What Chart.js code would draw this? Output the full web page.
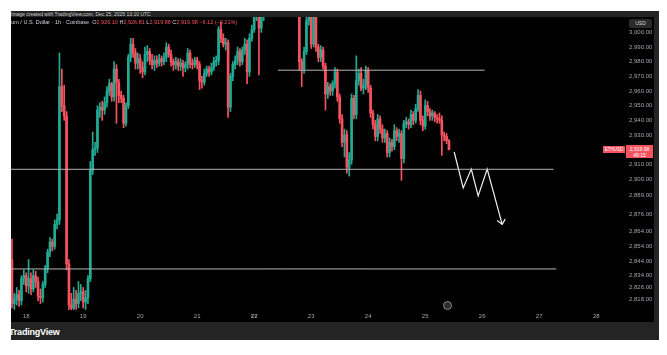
<!DOCTYPE html>
<html>
<head>
<meta charset="utf-8">
<script src="https://cdn.jsdelivr.net/npm/chart.js@4.4.1/dist/chart.umd.min.js"></script>
<style>
  html, body { margin: 0; padding: 0; background: #fff; width: 667px; height: 355px; overflow: hidden; font-family: "Liberation Sans", Arial, sans-serif; }
  #frame { position: absolute; left: 11px; top: 11px; width: 648px; height: 329px; background: #242424; overflow: hidden; }
  #panel { position: absolute; left: 0; top: 6px; width: 643px; height: 305px; background: #000; }
  #panel canvas { position: absolute; left: 0; top: 0; }
  #caption { position: absolute; left: 0; top: 0; font-size: 5px; line-height: 6px; color: #c9c9c9; white-space: nowrap; }
  #legend { position: absolute; left: 0; top: 8px; font-size: 5.5px; line-height: 7px; color: #d1d4dc; white-space: nowrap; text-indent: -16px; z-index: 2; }
  #legend .v { color: #f7525f; }
  #usd { position: absolute; left: 618px; top: 8px; width: 23px; height: 9px; background: #2a2a2a; border-radius: 2px; color: #d1d4dc; font-size: 5px; line-height: 9px; text-align: center; z-index: 2; }
  #symtag { position: absolute; left: 592px; top: 135px; width: 22px; height: 7px; background: #f7525f; color: #fff; font-size: 4.5px; line-height: 7px; text-align: center; z-index: 2; }
  #pricetag { position: absolute; left: 615px; top: 134px; width: 27px; height: 13px; background: #f7525f; color: #fff; font-size: 5px; line-height: 6px; text-align: center; padding-top: 1px; box-sizing: border-box; z-index: 2; }
  #brand { position: absolute; left: 9px; top: 327px; font-size: 9px; font-weight: bold; color: #fff; letter-spacing: -0.2px; }
  #replay { position: absolute; left: 443px; top: 301px; width: 7px; height: 7px; border-radius: 50%; border: 1px solid #8a8a8a; background: #2c2c2c; }
</style>
</head>
<body>
<div id="frame">
  <div id="caption">Image created with TradingView.com, Dec 25, 2025 13:10 UTC</div>
  <div id="panel"><canvas id="chart" width="643" height="305"></canvas></div>
  <div id="legend">Ethereum / U.S. Dollar · 1h · Coinbase &nbsp;O<span class="v">2,926.10</span> H<span class="v">2,926.81</span> L<span class="v">2,919.88</span> C<span class="v">2,919.98</span> <span class="v">−6.12 (−0.21%)</span></div>
  <div id="usd">USD</div>
  <div id="symtag">ETHUSD</div>
  <div id="pricetag">2,919.98<br>49:15</div>
</div>
<div id="brand">TradingView</div>
<div id="replay"></div>
<script>
// bougies 1h, premiere bougie = 17 dec 18:00 (heure -6 par rapport au 18 dec 00:00)
const startHour = -6;

const opens = [
  2845,2815,2818,2821,2817,2832,2834,2827,2832,2825,
  2834,2830,2820,2819,2828,2839,2850,2857,2854,2869,
  2872,2963,2950,2943,2842,2814,2812,2818,2815,2822,
  2823,2816,2819,2832,2906,2920,2921,2947,2949,2947,
  2952,2960,2965,2956,2975,2966,2957,2955,2938,2950,
  2983,2992,2986,2979,2982,2976,2973,2985,2987,2981,
  2978,2981,2979,2982,2980,2983,2990,2985,2980,2978,
  2980,2977,2979,2976,2978,2986,2979,2978,2981,2978,
  2967,2966,2972,2975,2973,2976,2980,2981,3002,2996,
  2992,2993,2949,2970,2978,2981,2987,2980,2988,2992,
  2973,2996,3002,3011,3014,3003,3012,3018,3022,3026,
  3024,3030,3033,3028,3031,3027,3029,3024,3027,3021,
  3018,3020,2980,2975,2987,3008,3015,2992,3012,2990,
  2983,2988,2977,2958,2963,2960,2965,2973,2956,2941,
  2925,2930,2908,2913,2955,2944,2967,2972,2962,2964,
  2974,2962,2945,2937,2929,2941,2934,2928,2931,2918,
  2925,2922,2933,2929,2931,2914,2938,2939,2937,2944,
  2940,2948,2957,2940,2936,2950,2946,2943,2945,2942,
  2941,2940,2930,2929,2926.1
];
const highs = [
  2859,2822,2826,2824,2834,2838,2836,2845,2836,2838,
  2837,2833,2825,2830,2841,2852,2860,2859,2872,2876,
  2986,2975,2964,2946,2845,2822,2826,2824,2830,2828,
  2826,2824,2834,2912,2932,2925,2950,2952,2953,2956,
  2963,2968,2966,2980,2978,2968,2960,2957,2952,2985,
  2996,2996,2989,2986,2985,2980,2990,2991,2989,2985,
  2984,2984,2985,2984,2986,2993,2992,2988,2982,2983,
  2982,2982,2981,2980,2989,2988,2982,2983,2983,2980,
  2970,2975,2977,2977,2979,2983,2984,3004,3007,2999,
  2996,2995,2972,2980,2984,2990,2989,2990,2996,2995,
  2999,3005,3015,3020,3016,3018,3025,3028,3031,3030,
  3034,3038,3036,3035,3034,3033,3031,3030,3029,3024,
  3025,3022,2982,2990,3012,3020,3020,3016,3014,2992,
  2991,2990,2979,2966,2965,2967,2976,2975,2958,2944,
  2934,2933,2918,2958,2957,2984,2975,2976,2968,2977,
  2976,2964,2947,2940,2944,2943,2937,2934,2933,2928,
  2927,2937,2935,2934,2933,2940,2942,2941,2947,2946,
  2951,2961,2960,2943,2954,2953,2948,2947,2946,2944,
  2945,2943,2932,2931,2926.81
];
const lows = [
  2812,2811,2814,2813,2814,2828,2823,2822,2821,2823,
  2826,2817,2815,2816,2826,2836,2847,2851,2852,2866,
  2869,2946,2940,2838,2810,2806,2809,2811,2812,2817,
  2812,2811,2815,2830,2903,2916,2918,2942,2940,2944,
  2949,2957,2953,2953,2938,2952,2952,2935,2936,2948,
  2980,2983,2975,2975,2972,2969,2971,2980,2978,2975,
  2974,2976,2977,2977,2978,2980,2983,2977,2974,2975,
  2974,2974,2970,2973,2975,2976,2975,2976,2975,2961,
  2962,2964,2970,2970,2971,2974,2977,2978,2993,2990,
  2988,2942,2946,2967,2975,2978,2977,2978,2985,2965,
  2970,2994,3000,3008,2971,3000,3008,3015,3019,3020,
  3021,3027,3025,3024,3022,3023,3019,3020,3017,3014,
  3015,2974,2963,2972,2985,3005,2989,2990,2987,2980,
  2980,2975,2947,2955,2957,2957,2962,2953,2938,2922,
  2915,2904,2902,2910,2941,2941,2964,2960,2958,2961,
  2959,2942,2934,2926,2926,2931,2925,2925,2915,2915,
  2919,2920,2926,2925,2899,2911,2935,2934,2935,2937,
  2938,2946,2937,2933,2934,2943,2940,2940,2939,2938,
  2938,2916,2926,2924,2919.88
];
const closes = [
  2815,2818,2821,2817,2832,2834,2827,2832,2825,2834,
  2830,2820,2819,2828,2839,2850,2857,2854,2869,2872,
  2963,2950,2943,2842,2814,2812,2818,2815,2822,2823,
  2816,2819,2832,2906,2920,2921,2947,2949,2947,2952,
  2960,2965,2956,2975,2966,2957,2955,2938,2950,2983,
  2992,2986,2979,2982,2976,2973,2985,2987,2981,2978,
  2981,2979,2982,2980,2983,2990,2985,2980,2978,2980,
  2977,2979,2976,2978,2986,2979,2978,2981,2978,2967,
  2966,2972,2975,2973,2976,2980,2981,3002,2996,2992,
  2993,2949,2970,2978,2981,2987,2980,2988,2992,2973,
  2996,3002,3011,3014,3003,3012,3018,3022,3026,3024,
  3030,3033,3028,3031,3027,3029,3024,3027,3021,3018,
  3020,2980,2975,2987,3008,3015,2992,3012,2990,2983,
  2988,2977,2958,2963,2960,2965,2973,2956,2941,2925,
  2930,2908,2913,2955,2944,2967,2972,2962,2964,2974,
  2962,2945,2937,2929,2941,2934,2928,2931,2918,2925,
  2922,2933,2929,2931,2914,2938,2939,2937,2944,2940,
  2948,2957,2940,2936,2950,2946,2943,2945,2942,2941,
  2940,2930,2929,2926.1,2919.98
];

// etiquettes de l'axe du temps (jours de decembre) et de l'axe des prix
const dayLabels = ['18','19','20','21','22','23','24','25','26','27','28'];
const priceTicks = [3000,2990,2980,2970,2960,2950,2940,2930,2920,2910,2900,2889,2876,2864,2854,2844,2834,2826,2818];

// dessins (heures depuis le 18 dec 00:00, prix)
const levelHigh = [[106, 2974.2], [193, 2974.2]];
const levelMid = [[-6.4, 2906.6], [222, 2906.6]];
const levelLow = [[-6.4, 2838.6], [223.2, 2838.6]];
const zigzag = [[180.2, 2918.4], [184.0, 2893.9], [187.4, 2906.8], [190.3, 2888.4], [194.1, 2906.8], [200.4, 2869.0]];
const arrowHead = [[198.3, 2871.6], [200.4, 2869.0], [201.7, 2872.6]];

const up = '#22ab94';
const down = '#f7525f';
const candleColors = closes.map((c, i) => c >= opens[i] ? up : down);

const toPts = arr => arr.map(p => ({ x: p[0], y: p[1] }));
const drawing = (pts, color, width) => ({
  type: 'line',
  data: toPts(pts),
  borderColor: color,
  borderWidth: width,
  pointRadius: 0,
  tension: 0,
  order: 1
});

// pas de marge automatique autour de la zone du graphique
const noPad = s => { s.paddingTop = 0; s.paddingBottom = 0; s.paddingLeft = 0; s.paddingRight = 0; };

const ctx = document.getElementById('chart').getContext('2d');
new Chart(ctx, {
  type: 'bar',
  data: {
    datasets: [
      {
        data: lows.map((l, i) => ({ x: startHour + i, y: [l, highs[i]] })),
        backgroundColor: candleColors,
        barThickness: 1,
        grouped: false,
        order: 3
      },
      {
        data: opens.map((o, i) => ({ x: startHour + i, y: [o, closes[i]] })),
        backgroundColor: candleColors,
        barThickness: 2,
        minBarLength: 1,
        grouped: false,
        order: 2
      },
      drawing(levelHigh, '#b4b4b4', 1),
      drawing(levelMid, '#b4b4b4', 1),
      drawing(levelLow, '#b4b4b4', 1),
      drawing(zigzag, '#f2f2f2', 1.2),
      drawing(arrowHead, '#f2f2f2', 1.2)
    ]
  },
  options: {
    responsive: false,
    animation: false,
    layout: { padding: 0 },
    plugins: { legend: { display: false }, tooltip: { enabled: false } },
    scales: {
      x: {
        type: 'linear',
        offset: false,
        min: -6.4,
        max: 251.7,
        grid: { display: false, drawTicks: false },
        border: { display: false },
        afterBuildTicks: s => { s.ticks = dayLabels.map((d, i) => ({ value: i * 24 })); },
        afterFit: s => { s.height = 12; noPad(s); },
        ticks: {
          autoSkip: false,
          maxRotation: 0,
          padding: 3,
          color: '#a3a6af',
          font: c => ({ family: 'Liberation Sans', size: 6, weight: c.index === 4 ? 'bold' : 'normal' }),
          callback: (v, i) => dayLabels[i]
        }
      },
      y: {
        type: 'linear',
        position: 'right',
        min: 2810.6,
        max: 3010.5,
        grid: { display: false, drawTicks: false },
        border: { display: false },
        afterBuildTicks: s => { s.ticks = priceTicks.map(v => ({ value: v })); },
        afterFit: s => { s.width = 30; noPad(s); },
        ticks: {
          autoSkip: false,
          padding: 5,
          color: '#a3a6af',
          font: { family: 'Liberation Sans', size: 6 },
          callback: v => v.toLocaleString('en-US', { minimumFractionDigits: 2, maximumFractionDigits: 2 })
        }
      }
    }
  }
});
</script>
</body>
</html>
